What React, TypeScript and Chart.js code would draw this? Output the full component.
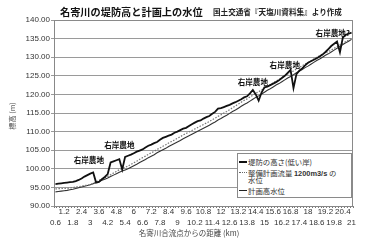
import { useEffect, useRef } from "react";
import { Chart, registerables } from "chart.js";

Chart.register(...registerables);

// Distance from the Nayoro river confluence (km), one category every 0.2 km
const KM: string[] = [
  "0.6", "0.8",
  "1", "1.2", "1.4", "1.6", "1.8",
  "2", "2.2", "2.4", "2.6", "2.8",
  "3", "3.2", "3.4", "3.6", "3.8",
  "4", "4.2", "4.4", "4.6", "4.8",
  "5", "5.2", "5.4", "5.6", "5.8",
  "6", "6.2", "6.4", "6.6", "6.8",
  "7", "7.2", "7.4", "7.6", "7.8",
  "8", "8.2", "8.4", "8.6", "8.8",
  "9", "9.2", "9.4", "9.6", "9.8",
  "10", "10.2", "10.4", "10.6", "10.8",
  "11", "11.2", "11.4", "11.6", "11.8",
  "12", "12.2", "12.4", "12.6", "12.8",
  "13", "13.2", "13.4", "13.6", "13.8",
  "14", "14.2", "14.4", "14.6", "14.8",
  "15", "15.2", "15.4", "15.6", "15.8",
  "16", "16.2", "16.4", "16.6", "16.8",
  "17", "17.2", "17.4", "17.6", "17.8",
  "18", "18.2", "18.4", "18.6", "18.8",
  "19", "19.2", "19.4", "19.6", "19.8",
  "20", "20.2", "20.4", "20.6", "20.8",
  "21",
];

// Tick labels that are shown (staggered on two rows)
const TOP_ROW_LABELS: string[] = ["1.2", "2.4", "3.6", "4.8", "6", "7.2", "8.4", "9.6", "10.8", "12", "13.2", "14.4", "15.6", "16.8", "18", "19.2", "20.4"];
const BOTTOM_ROW_LABELS: string[] = ["0.6", "1.8", "3", "4.2", "5.4", "6.6", "7.8", "9", "10.2", "11.4", "12.6", "13.8", "15", "16.2", "17.4", "18.6", "19.8", "21"];

// 堤防の高さ(低い岸)
const LEVEE: number[] = [
  95.9, 96.0,
  96.1, 96.2, 96.3, 96.4, 96.5,
  96.7, 97.0, 97.4, 97.9, 98.3,
  98.7, 99.0, 96.3, 96.5, 97.2,
  97.8, 98.6, 101.7, 102.0, 102.3,
  102.6, 99.8, 103.2, 103.5, 103.8,
  104.2, 104.6, 104.9, 105.2, 105.7,
  106.2, 106.5, 106.9, 107.2, 107.8,
  108.3, 108.6, 108.9, 109.2, 109.7,
  110.0, 110.4, 110.8, 111.0, 111.5,
  112.0, 112.4, 112.8, 113.0, 113.5,
  113.9, 114.2, 114.8, 115.3, 116.2,
  116.3, 116.6, 116.9, 117.2, 117.6,
  117.9, 118.3, 118.7, 119.2, 119.5,
  120.3, 121.2, 120.0, 118.3, 120.5,
  121.9, 122.1, 122.5, 122.9, 123.3,
  123.8, 124.4, 125.0, 125.8, 126.6,
  121.7, 125.4, 126.4, 127.0, 127.8,
  128.5, 128.9, 129.3, 129.7, 130.2,
  130.7, 131.4, 132.2, 133.0, 133.6,
  134.2, 131.3, 135.3, 136.0, 136.3,
  136.6,
];

// 整備計画流量 1200m3/s の水位
const PLAN_FLOW: number[] = [
  94.6, 94.65,
  94.7, 94.7, 94.75, 94.85, 94.95,
  95.1, 95.2, 95.35, 95.5, 95.6,
  95.75, 96.1, 96.5, 96.9, 97.25,
  97.6, 97.95, 98.4, 98.85, 99.3,
  99.75, 100.1, 100.4, 100.75, 101.2,
  101.6, 102.05, 102.55, 103.0, 103.4,
  103.9, 104.3, 104.7, 105.2, 105.6,
  106.05, 106.45, 106.95, 107.35, 107.75,
  108.2, 108.6, 109.1, 109.5, 109.9,
  110.3, 110.7, 111.1, 111.5, 111.9,
  112.3, 112.7, 113.2, 113.6, 114.1,
  114.5, 115.0, 115.4, 115.9, 116.4,
  116.9, 117.4, 117.9, 118.4, 118.8,
  119.3, 119.8, 120.3, 120.7, 121.2,
  121.7, 122.2, 122.6, 123.1, 123.6,
  124.0, 124.5, 125.0, 125.5, 125.9,
  126.3, 126.8, 127.2, 127.7, 128.2,
  128.5, 129.0, 129.5, 130.0, 130.4,
  130.8, 131.2, 131.5, 131.9, 132.4,
  132.8, 133.3, 133.7, 134.2, 134.6,
  135.1,
];

// 計画高水位
const HWL: number[] = [
  93.8, 93.9,
  94.0, 94.1, 94.2, 94.35, 94.5,
  94.7, 94.9, 95.1, 95.3, 95.5,
  95.7, 96.0, 96.3, 96.6, 96.9,
  97.2, 97.5, 97.9, 98.3, 98.7,
  99.1, 99.4, 99.7, 100.0, 100.4,
  100.8, 101.2, 101.7, 102.1, 102.5,
  103.0, 103.4, 103.8, 104.3, 104.7,
  105.1, 105.5, 106.0, 106.4, 106.8,
  107.2, 107.6, 108.1, 108.5, 108.9,
  109.3, 109.7, 110.1, 110.5, 110.9,
  111.3, 111.7, 112.2, 112.6, 113.1,
  113.5, 114.0, 114.4, 114.9, 115.4,
  115.8, 116.3, 116.8, 117.3, 117.7,
  118.2, 118.7, 119.2, 119.6, 120.1,
  120.6, 121.1, 121.5, 122.0, 122.5,
  122.9, 123.4, 123.9, 124.4, 124.8,
  125.3, 125.8, 126.2, 126.7, 127.2,
  127.6, 128.1, 128.6, 129.1, 129.5,
  130.0, 130.5, 130.9, 131.4, 131.9,
  132.4, 132.9, 133.4, 133.9, 134.3,
  134.8,
];

// Text annotations anchored at (distance km, elevation m)
const ANNOTATION_TEXT: string[] = ["右岸農地", "右岸農地", "右岸農地", "右岸農地", "右岸農地?"];
const ANNOTATION_KM: number[] = [2.9, 5.0, 14.2, 16.4, 19.7];
const ANNOTATION_M: number[] = [102.4, 106.4, 123.3, 127.9, 136.5];

const SERIES_NAMES: string[] = ["堤防の高さ(低い岸)", "整備計画流量 1200m3/s の水位", "計画高水位"];

const CJK = '"Noto Sans CJK JP", "Noto Sans", sans-serif';
const LATIN = '"Liberation Sans", Arial, sans-serif';

const overlayPlugin = {
  id: "overlay",
  afterDatasetsDraw(chart: any) {
    const { ctx, chartArea, scales } = chart;
    const x = scales.x;
    const y = scales.y;
    ctx.save();
    ctx.strokeStyle = "#8a8a8a";
    ctx.lineWidth = 1;
    ctx.beginPath();
    ctx.moveTo(chartArea.left, chartArea.top + 0.5);
    ctx.lineTo(chartArea.right - 0.5, chartArea.top + 0.5);
    ctx.lineTo(chartArea.right - 0.5, chartArea.bottom);
    ctx.stroke();
    ctx.font = `bold 7.6px ${CJK}`;
    ctx.fillStyle = "#111";
    ctx.textAlign = "center";
    ctx.textBaseline = "middle";
    for (let i = 0; i < ANNOTATION_TEXT.length; i++) {
      const idx = (ANNOTATION_KM[i] - 0.6) / 0.2;
      ctx.fillText(ANNOTATION_TEXT[i], x.getPixelForValue(idx), y.getPixelForValue(ANNOTATION_M[i]));
    }
    ctx.restore();
  },
};

export default function App() {
  const canvasRef = useRef<HTMLCanvasElement | null>(null);

  useEffect(() => {
    document.body.style.margin = "0";
    const canvas = canvasRef.current;
    if (!canvas) return;
    const chart = new Chart(canvas, {
      type: "line",
      data: {
        labels: KM,
        datasets: [
          {
            label: SERIES_NAMES[0],
            data: LEVEE,
            borderColor: "#111",
            borderWidth: 1.8,
            pointRadius: 0,
            tension: 0,
            order: 0,
          },
          {
            label: SERIES_NAMES[1],
            data: PLAN_FLOW,
            borderColor: "#777",
            borderWidth: 1.2,
            borderDash: [1.5, 1.5],
            pointRadius: 0,
            tension: 0,
            order: 1,
          },
          {
            label: SERIES_NAMES[2],
            data: HWL,
            borderColor: "#333",
            borderWidth: 1.1,
            pointRadius: 0,
            tension: 0,
            order: 2,
          },
        ],
      },
      options: {
        animation: false,
        responsive: false,
        devicePixelRatio: 1,
        layout: { padding: { left: 0, right: 19, top: 20, bottom: 0 } },
        plugins: {
          legend: { display: false },
          tooltip: { enabled: false },
          title: { display: false },
        },
        scales: {
          x: {
            type: "category",
            offset: true,
            afterFit: (s: any) => {
              s.height = 42;
            },
            grid: {
              display: true,
              drawOnChartArea: false,
              drawTicks: true,
              tickLength: 2,
              offset: true,
              color: "#777",
            },
            border: { display: true, color: "#888", width: 1 },
            ticks: {
              autoSkip: false,
              maxRotation: 0,
              minRotation: 0,
              padding: -1,
              color: "#333",
              font: { family: LATIN, size: 8, lineHeight: "10.5px" },
              callback: (_v: any, index: number) => {
                const lab = KM[index];
                if (TOP_ROW_LABELS.includes(lab)) return [lab, ""];
                if (BOTTOM_ROW_LABELS.includes(lab)) return ["", lab];
                return "";
              },
            },
          },
          y: {
            min: 90,
            max: 140,
            afterFit: (s: any) => {
              s.width = 54;
            },
            grid: { color: "#9a9a9a", lineWidth: 1, tickLength: 3 },
            border: { display: true, color: "#888", width: 1 },
            ticks: {
              stepSize: 5,
              padding: 1,
              color: "#333",
              font: { family: LATIN, size: 8 },
              callback: (v: any) => Number(v).toFixed(2),
            },
          },
        },
      },
      plugins: [overlayPlugin],
    });
    return () => chart.destroy();
  }, []);

  const legendText: any = {
    position: "absolute",
    left: 10,
    fontFamily: CJK,
    fontSize: 7.4,
    lineHeight: "8px",
    color: "#333",
    whiteSpace: "nowrap",
  };

  return (
    <div style={{ position: "absolute", left: 0, top: 0, width: 372, height: 248, background: "#fff", overflow: "hidden" }}>
      <canvas ref={canvasRef} width={372} height={248} style={{ position: "absolute", left: 0, top: 0, width: 372, height: 248 }} />
      <div style={{ position: "absolute", left: 60, top: 6, fontFamily: CJK, fontWeight: 700, fontSize: 10.2, lineHeight: "11px", color: "#111", whiteSpace: "nowrap" }}>
        名寄川の堤防高と計画上の水位
      </div>
      <div style={{ position: "absolute", left: 213, top: 8.3, fontFamily: CJK, fontWeight: 700, fontSize: 7.6, lineHeight: "8px", color: "#222", whiteSpace: "nowrap" }}>
        国土交通省『天塩川資料集』より作成
      </div>
      <div style={{ position: "absolute", left: -18, top: 112, width: 60, textAlign: "center", fontFamily: CJK, fontSize: 7.2, lineHeight: "8px", color: "#555", transform: "rotate(-90deg)", whiteSpace: "nowrap" }}>
        標高 (m)
      </div>
      <div style={{ position: "absolute", left: 90, top: 229, width: 198, textAlign: "center", fontFamily: CJK, fontSize: 7.5, lineHeight: "8px", color: "#444", whiteSpace: "nowrap" }}>
        名寄川合流点からの距離 (km)
      </div>
      <div style={{ position: "absolute", left: 237, top: 153, width: 115, height: 45, boxSizing: "border-box", border: "1px solid #8a8a8a", background: "#fff" }}>
        <div style={{ position: "absolute", left: 1, top: 6.5, width: 8, height: 2, background: "#111" }} />
        <div style={{ ...legendText, top: 3.5 }}>{SERIES_NAMES[0]}</div>
        <div style={{ position: "absolute", left: 1, top: 17.5, width: 8, height: 0, borderTop: "1.3px dotted #666" }} />
        <div style={{ ...legendText, top: 14.5 }}>整備計画流量 <span style={{ fontFamily: LATIN, fontWeight: 700 }}>1200m3/s</span> の</div>
        <div style={{ ...legendText, top: 22 }}>水位</div>
        <div style={{ position: "absolute", left: 1, top: 35.5, width: 8, height: 1.2, background: "#222" }} />
        <div style={{ ...legendText, top: 32.5 }}>{SERIES_NAMES[2]}</div>
      </div>
    </div>
  );
}
